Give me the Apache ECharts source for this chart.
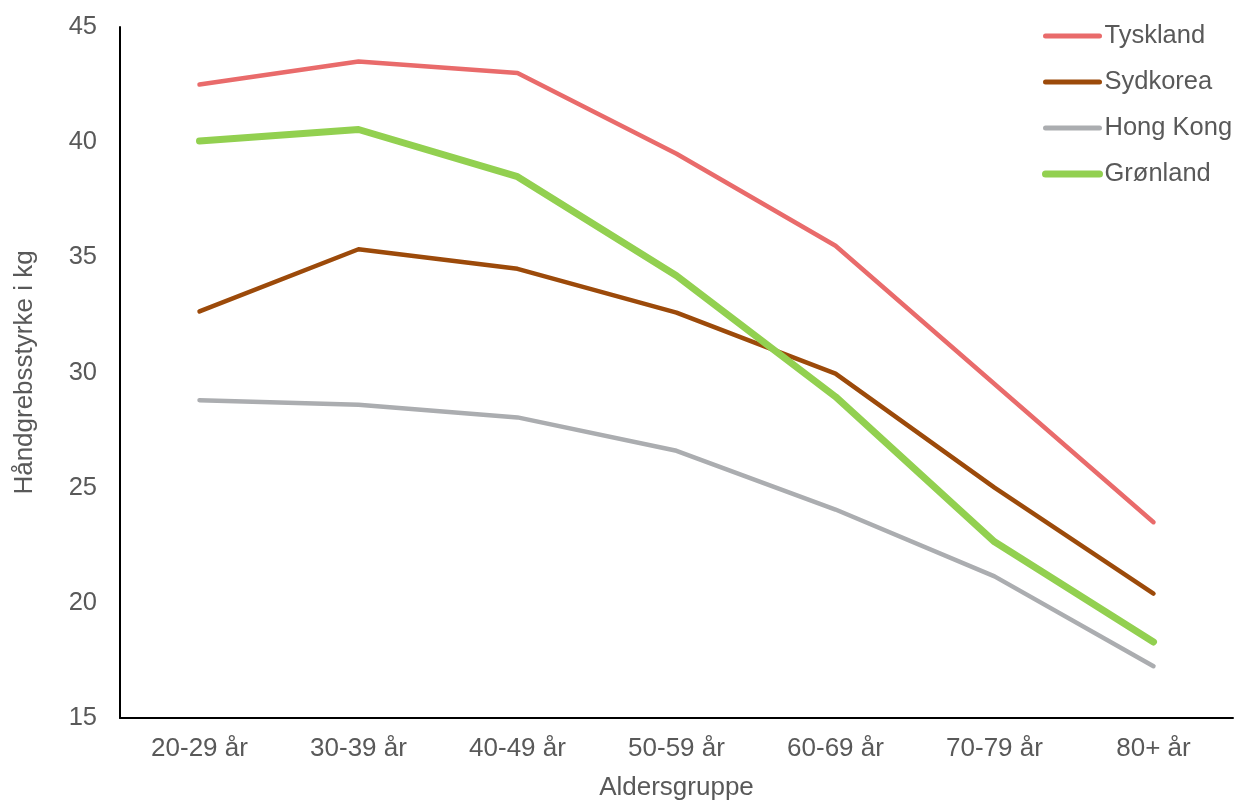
<!DOCTYPE html>
<html>
<head>
<meta charset="utf-8">
<script src="https://cdn.jsdelivr.net/npm/echarts@6/dist/echarts.min.js"></script>
<style>html,body{margin:0;padding:0;background:#fff}#c{width:1239px;height:805px}</style>
</head>
<body>
<div id="c"></div>
<script>
const categories = ['20-29 år','30-39 år','40-49 år','50-59 år','60-69 år','70-79 år','80+ år'];
const tyskland = [42.5, 43.5, 43.0, 39.5, 35.5, 29.5, 23.5];
const sydkorea = [32.65, 35.35, 34.5, 32.6, 29.95, 25.0, 20.4];
const hongKong = [28.8, 28.6, 28.05, 26.6, 24.05, 21.15, 17.25];
const gronland = [40.05, 40.55, 38.5, 34.2, 28.95, 22.65, 18.3];
const seriesNames = ['Tyskland','Sydkorea','Hong Kong','Grønland'];

const font = 'Liberation Sans, Arial, sans-serif';
const chart = echarts.init(document.getElementById('c'));
function s(name, data, color, w) {
  return {
    name, type: 'line', data, symbol: 'none', showSymbol: false,
    lineStyle: { color, width: w, cap: 'round', join: 'round' },
    itemStyle: { color }, emphasis: { disabled: true }
  };
}
chart.setOption({
  animation: false,
  grid: { left: 120, right: 6, top: 27, bottom: 87, outerBoundsMode: 'none', containLabel: false },
  legend: {
    left: 1037, top: 18, orient: 'vertical', itemGap: 20,
    itemWidth: 54, itemHeight: 26,
    itemStyle: { opacity: 0 },
    lineStyle: { width: 5, cap: 'round' },
    textStyle: { fontFamily: font, fontSize: 25.5, color: '#595959' },
    data: [
      { name: seriesNames[0] },
      { name: seriesNames[1] },
      { name: seriesNames[2] },
      { name: seriesNames[3], lineStyle: { width: 7, cap: 'round' } }
    ]
  },
  xAxis: {
    type: 'category', data: categories,
    name: 'Aldersgruppe', nameLocation: 'middle', nameGap: 57,
    nameTextStyle: { fontFamily: font, fontSize: 26, color: '#595959' },
    axisLine: { lineStyle: { color: '#000', width: 2 } },
    axisTick: { show: false },
    axisLabel: { fontFamily: font, fontSize: 26, color: '#595959', margin: 18 }
  },
  yAxis: {
    type: 'value', min: 15, max: 45, interval: 5,
    name: 'Håndgrebsstyrke i kg', nameLocation: 'middle', nameGap: 82,
    nameTextStyle: { fontFamily: font, fontSize: 26, color: '#595959' },
    axisLine: { show: true, lineStyle: { color: '#000', width: 2 } },
    axisTick: { show: false }, splitLine: { show: false },
    axisLabel: { fontFamily: font, fontSize: 25.5, color: '#595959', margin: 23 }
  },
  series: [
    s(seriesNames[0], tyskland, '#E96B6B', 4.5),
    s(seriesNames[1], sydkorea, '#9C4A0A', 4.5),
    s(seriesNames[2], hongKong, '#ABADB0', 4.5),
    s(seriesNames[3], gronland, '#92D050', 7)
  ]
});
</script>
</body>
</html>
